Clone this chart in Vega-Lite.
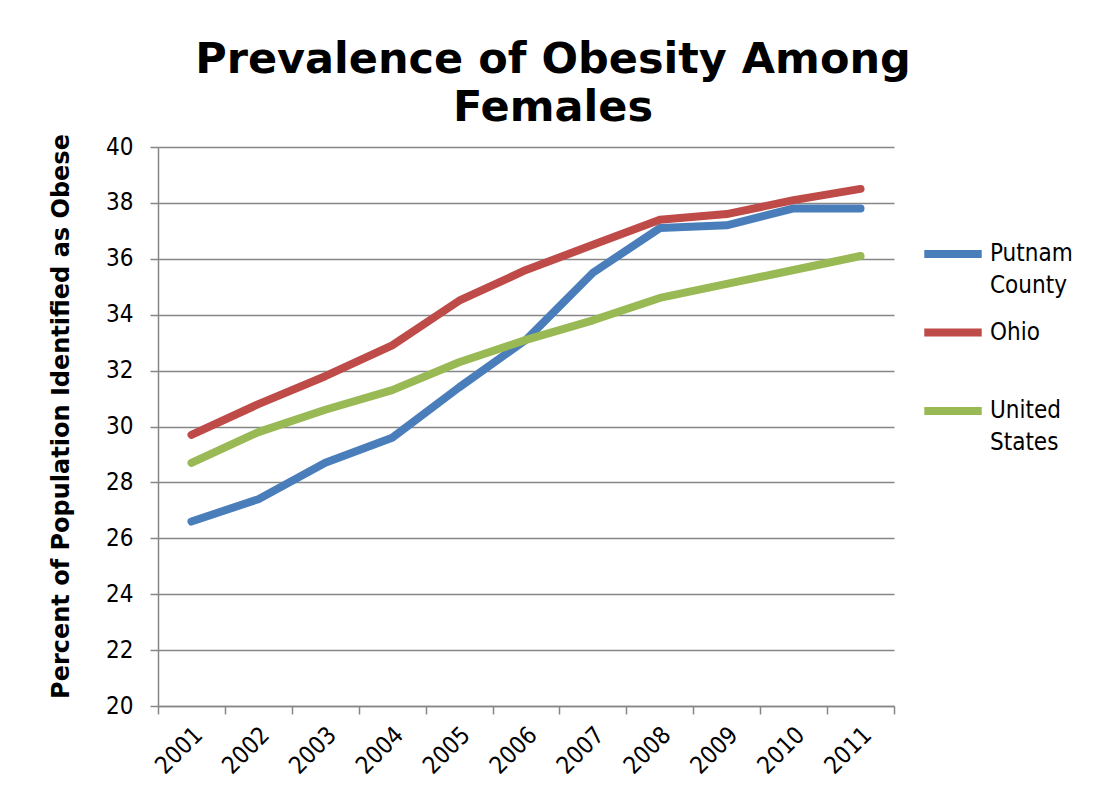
{
  "$schema": "https://vega.github.io/schema/vega-lite/v6.json",
  "width": 736,
  "height": 559,
  "autosize": "none",
  "padding": {"left": 158, "top": 147, "right": 211, "bottom": 86},
  "background": "white",
  "title": {
    "text": ["Prevalence of Obesity Among", "Females"],
    "font": "DejaVu Sans",
    "fontSize": 43,
    "fontWeight": "bold",
    "color": "black",
    "anchor": "middle",
    "frame": "group",
    "dx": 27,
    "offset": 4,
    "lineHeight": 48
  },
  "data": {
    "values": [
      {"year": "2001", "region": "Putnam County", "value": 26.6},
      {"year": "2002", "region": "Putnam County", "value": 27.4},
      {"year": "2003", "region": "Putnam County", "value": 28.7},
      {"year": "2004", "region": "Putnam County", "value": 29.6},
      {"year": "2005", "region": "Putnam County", "value": 31.4},
      {"year": "2006", "region": "Putnam County", "value": 33.1},
      {"year": "2007", "region": "Putnam County", "value": 35.5},
      {"year": "2008", "region": "Putnam County", "value": 37.1},
      {"year": "2009", "region": "Putnam County", "value": 37.2},
      {"year": "2010", "region": "Putnam County", "value": 37.8},
      {"year": "2011", "region": "Putnam County", "value": 37.8},
      {"year": "2001", "region": "Ohio", "value": 29.7},
      {"year": "2002", "region": "Ohio", "value": 30.8},
      {"year": "2003", "region": "Ohio", "value": 31.8},
      {"year": "2004", "region": "Ohio", "value": 32.9},
      {"year": "2005", "region": "Ohio", "value": 34.5},
      {"year": "2006", "region": "Ohio", "value": 35.6},
      {"year": "2007", "region": "Ohio", "value": 36.5},
      {"year": "2008", "region": "Ohio", "value": 37.4},
      {"year": "2009", "region": "Ohio", "value": 37.6},
      {"year": "2010", "region": "Ohio", "value": 38.1},
      {"year": "2011", "region": "Ohio", "value": 38.5},
      {"year": "2001", "region": "United States", "value": 28.7},
      {"year": "2002", "region": "United States", "value": 29.8},
      {"year": "2003", "region": "United States", "value": 30.6},
      {"year": "2004", "region": "United States", "value": 31.3},
      {"year": "2005", "region": "United States", "value": 32.3},
      {"year": "2006", "region": "United States", "value": 33.1},
      {"year": "2007", "region": "United States", "value": 33.8},
      {"year": "2008", "region": "United States", "value": 34.6},
      {"year": "2009", "region": "United States", "value": 35.1},
      {"year": "2010", "region": "United States", "value": 35.6},
      {"year": "2011", "region": "United States", "value": 36.1}
    ]
  },
  "mark": {"type": "line", "strokeWidth": 8, "strokeCap": "round", "strokeJoin": "round"},
  "encoding": {
    "x": {
      "field": "year",
      "type": "nominal",
      "scale": {"type": "band", "paddingInner": 0, "paddingOuter": 0},
      "axis": {
        "title": null,
        "tickBand": "extent",
        "labelAngle": -45,
        "labelAlign": "right",
        "labelBaseline": "middle",
        "labelFont": "DejaVu Sans Condensed",
        "labelFontSize": 24,
        "labelColor": "black",
        "labelPadding": 17,
        "labelOffset": 7,
        "domainColor": "#868686",
        "domainWidth": 1.5,
        "tickColor": "#868686",
        "tickWidth": 1.5,
        "tickSize": 8,
        "grid": false
      }
    },
    "y": {
      "field": "value",
      "type": "quantitative",
      "scale": {"domain": [20, 40], "nice": false, "zero": false},
      "axis": {
        "title": "Percent of Population Identified as Obese",
        "titleFont": "DejaVu Sans",
        "titleFontSize": 24,
        "titleFontWeight": "bold",
        "titleColor": "black",
        "titleX": -90,
        "titleY": 269,
        "titleBaseline": "alphabetic",
        "values": [20, 22, 24, 26, 28, 30, 32, 34, 36, 38, 40],
        "labelFont": "DejaVu Sans Condensed",
        "labelFontSize": 24,
        "labelColor": "black",
        "labelPadding": 17,
        "tickColor": "#868686",
        "tickWidth": 1.5,
        "tickSize": 8,
        "domainColor": "#868686",
        "domainWidth": 1.5,
        "gridColor": "#868686",
        "gridWidth": 1.5
      }
    },
    "color": {
      "field": "region",
      "type": "nominal",
      "scale": {
        "domain": ["Putnam County", "Ohio", "United States"],
        "range": ["#4A7EBB", "#BE4B48", "#98B954"]
      },
      "legend": {
        "title": null,
        "orient": "none",
        "legendX": 762,
        "legendY": 74,
        "symbolType": "stroke",
        "symbolSize": 3300,
        "symbolStrokeWidth": 8,
        "labelFont": "DejaVu Sans Condensed",
        "labelFontSize": 24,
        "labelColor": "black",
        "labelBaseline": "middle",
        "labelOffset": 4,
        "labelLimit": 200,
        "labelExpr": "datum.label == 'Ohio' ? ['Ohio', ''] : split(datum.label, ' ')",
        "rowPadding": 1.5
      }
    }
  },
  "config": {
    "view": {"stroke": null},
    "style": {"guide-label": {"lineHeight": 32}}
  }
}
